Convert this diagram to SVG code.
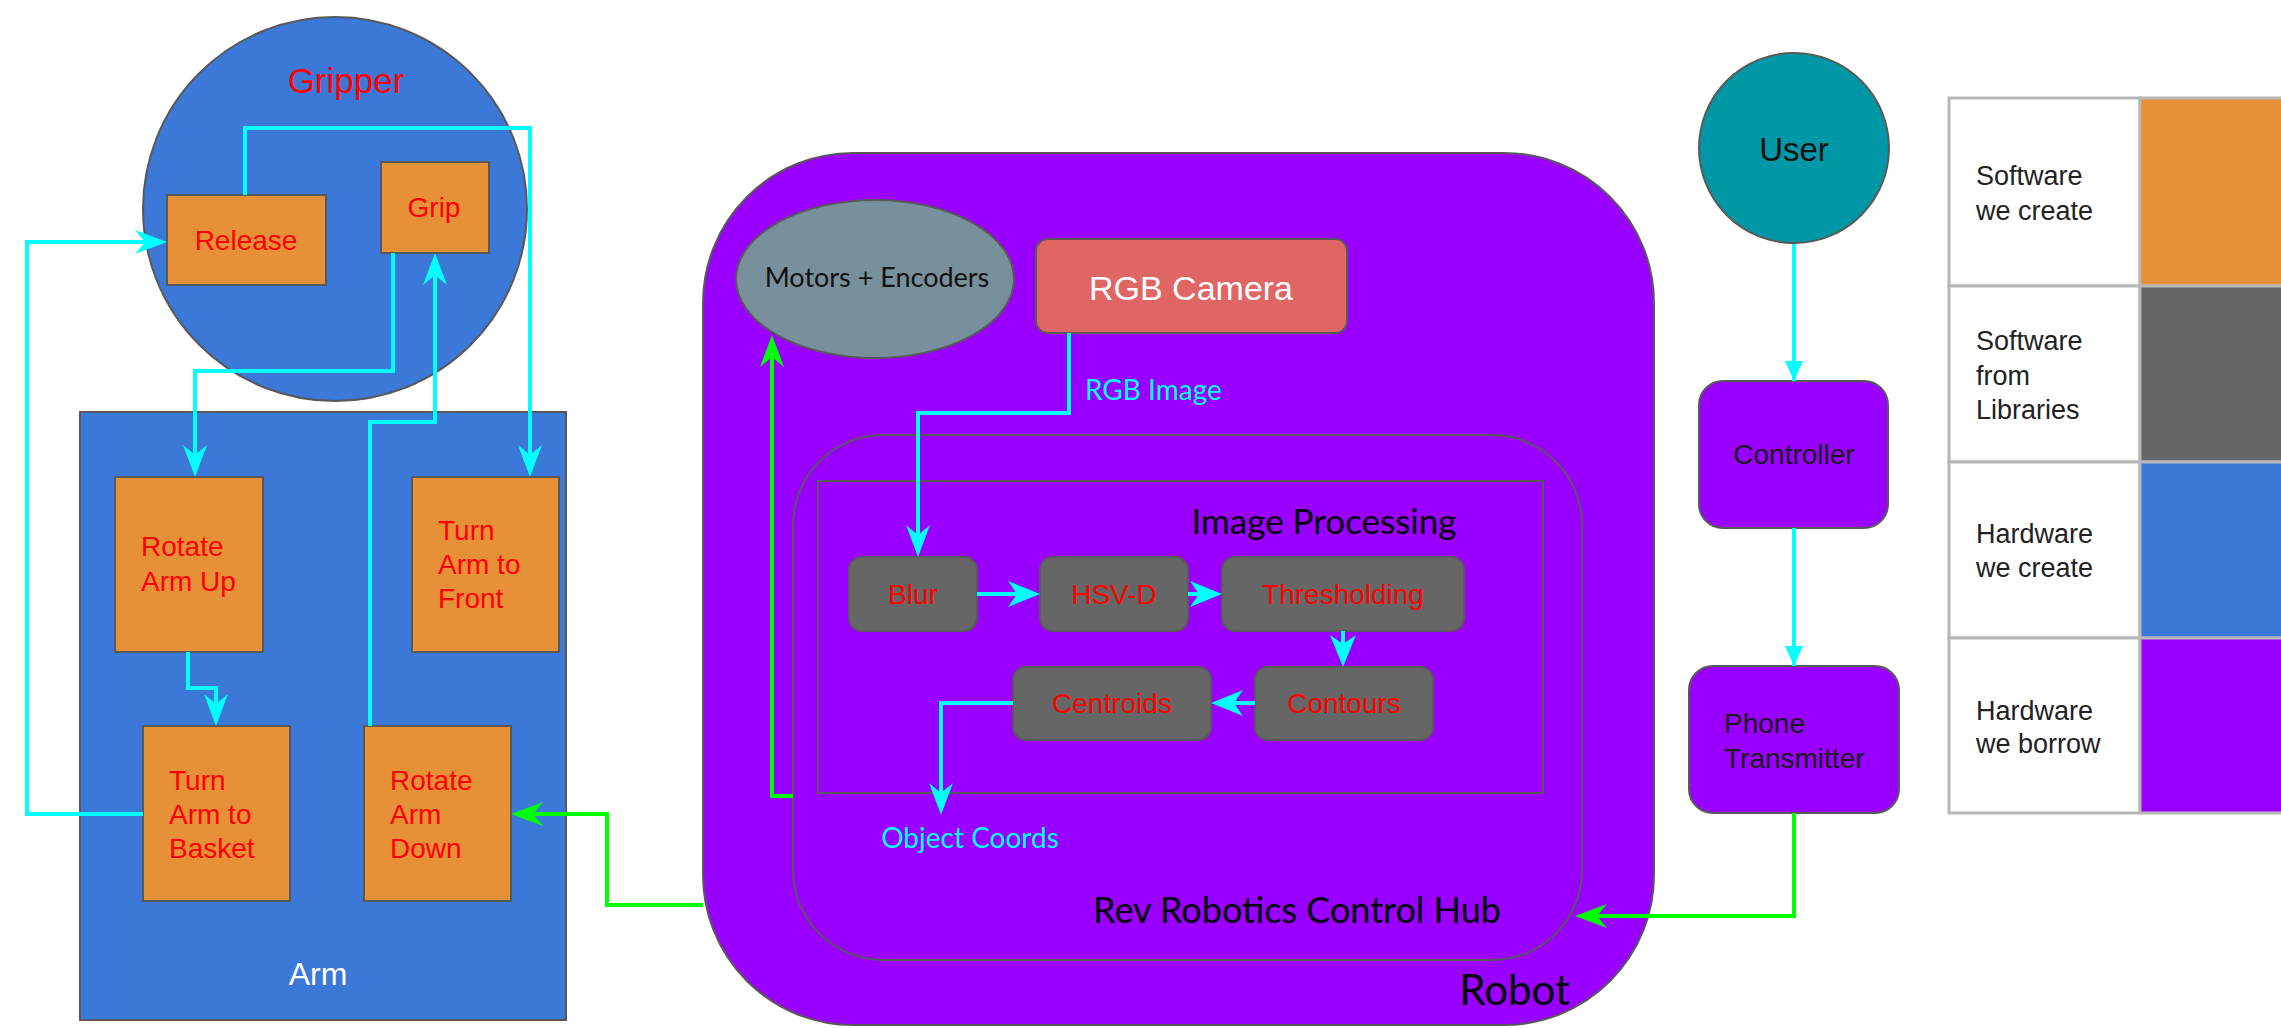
<svg xmlns="http://www.w3.org/2000/svg" width="2281" height="1028" viewBox="0 0 2281 1028">
<style>
.a{font-family:"Liberation Sans",Arial,sans-serif}
.l{font-family:Lato,"Open Sans",sans-serif}
.red{fill:#ff0000;font-size:28px}
.sw{fill:#e69138;stroke:#595959;stroke-width:2}
.lib{fill:#666666;stroke:#5a5a5a;stroke-width:2}
.cy{fill:none;stroke:#00ffff;stroke-width:4}
.gr{fill:none;stroke:#00ff00;stroke-width:4}
.leg{fill:#222;font-size:27px}
.cell{stroke:#b7b7b7;stroke-width:3}
</style>
<defs>
<marker id="ac" viewBox="0 0 32 24" markerWidth="32" markerHeight="24" refX="26" refY="12" orient="auto" markerUnits="userSpaceOnUse"><path d="M0,0 L32,12 L0,24 L10,12 Z" fill="#00ffff"/></marker>
<marker id="ag" viewBox="0 0 32 24" markerWidth="32" markerHeight="24" refX="26" refY="12" orient="auto" markerUnits="userSpaceOnUse"><path d="M0,0 L32,12 L0,24 L10,12 Z" fill="#00ff00"/></marker>
<marker id="ab" viewBox="0 0 32 26" markerWidth="32" markerHeight="26" refX="20" refY="13" orient="auto" markerUnits="userSpaceOnUse"><path d="M0,0 L32,13 L0,26 L9,13 Z" fill="#00ffff"/></marker>
<marker id="at" viewBox="0 0 20 18" markerWidth="20" markerHeight="18" refX="20" refY="9" orient="auto" markerUnits="userSpaceOnUse"><path d="M0,0 L20,9 L0,18 Z" fill="#00ffff"/></marker>
</defs>
<rect width="2281" height="1028" fill="#ffffff"/>

<g id="gripper">
<circle cx="335" cy="209" r="192" fill="#3c78d8" stroke="#595959" stroke-width="2"/>
<text class="a" x="346" y="93" font-size="35" fill="#ff0000" text-anchor="middle">Gripper</text>
</g>
<g id="release">
<rect class="sw" x="167" y="195" width="159" height="90"/>
<text class="a red" x="246" y="250" text-anchor="middle">Release</text>
</g>
<g id="grip">
<rect class="sw" x="381" y="162" width="108" height="91"/>
<text class="a red" x="434" y="217" text-anchor="middle">Grip</text>
</g>

<g id="arm">
<rect x="80" y="412" width="486" height="608" fill="#3c78d8" stroke="#595959" stroke-width="2"/>
<text class="a" x="318" y="985" font-size="32" fill="#ffffff" text-anchor="middle">Arm</text>
</g>
<g id="rotate-arm-up">
<rect class="sw" x="115" y="477" width="148" height="175"/>
<text class="a red" x="141" y="556">Rotate</text>
<text class="a red" x="141" y="591">Arm Up</text>
</g>
<g id="turn-arm-front">
<rect class="sw" x="412" y="477" width="147" height="175"/>
<text class="a red" x="438" y="540">Turn</text>
<text class="a red" x="438" y="574">Arm to</text>
<text class="a red" x="438" y="608">Front</text>
</g>
<g id="turn-arm-basket">
<rect class="sw" x="143" y="726" width="147" height="175"/>
<text class="a red" x="169" y="790">Turn</text>
<text class="a red" x="169" y="824">Arm to</text>
<text class="a red" x="169" y="858">Basket</text>
</g>
<g id="rotate-arm-down">
<rect class="sw" x="364" y="726" width="147" height="175"/>
<text class="a red" x="390" y="790">Rotate</text>
<text class="a red" x="390" y="824">Arm</text>
<text class="a red" x="390" y="858">Down</text>
</g>

<g id="robot">
<rect x="703" y="153" width="951" height="872" rx="150" ry="150" fill="#9900ff" stroke="#595959" stroke-width="2"/>
<text class="l" x="1570" y="1005" font-size="42" fill="#000" text-anchor="end">Robot</text>
</g>
<g id="control-hub">
<rect x="793" y="435" width="789" height="525" rx="90" ry="90" fill="none" stroke="#595959" stroke-width="2"/>
<text class="l" x="1297" y="923" font-size="36" fill="#000" text-anchor="middle">Rev Robotics Control Hub</text>
</g>
<g id="image-processing">
<rect x="818" y="481" width="725" height="312" fill="none" stroke="#595959" stroke-width="2"/>
<text class="l" x="1324" y="534" font-size="35" fill="#000" text-anchor="middle">Image Processing</text>
</g>
<g id="motors">
<ellipse cx="875" cy="279" rx="139" ry="79" fill="#78909c" stroke="#595959" stroke-width="2"/>
<text class="l" x="877" y="287" font-size="27" fill="#111" text-anchor="middle">Motors + Encoders</text>
</g>
<g id="camera">
<rect x="1036" y="239" width="311" height="94" rx="12" ry="12" fill="#e06666" stroke="#595959" stroke-width="2"/>
<text class="a" x="1191" y="300" font-size="34" fill="#ffffff" text-anchor="middle">RGB Camera</text>
</g>
<g id="blur">
<rect class="lib" x="849" y="557" width="128" height="74" rx="13"/>
<text class="a red" x="913" y="604" text-anchor="middle">Blur</text>
</g>
<g id="hsv">
<rect class="lib" x="1040" y="557" width="148" height="74" rx="13"/>
<text class="a red" x="1114" y="604" text-anchor="middle">HSV-D</text>
</g>
<g id="thresholding">
<rect class="lib" x="1222" y="557" width="242" height="74" rx="13"/>
<text class="a red" x="1343" y="604" text-anchor="middle">Thresholding</text>
</g>
<g id="contours">
<rect class="lib" x="1255" y="667" width="178" height="73" rx="13"/>
<text class="a red" x="1344" y="713" text-anchor="middle">Contours</text>
</g>
<g id="centroids">
<rect class="lib" x="1013" y="667" width="198" height="73" rx="13"/>
<text class="a red" x="1112" y="713" text-anchor="middle">Centroids</text>
</g>

<g id="user">
<ellipse cx="1794" cy="148" rx="95" ry="95" fill="#0097a7" stroke="#595959" stroke-width="2"/>
<text class="a" x="1794" y="161" font-size="33" fill="#111" text-anchor="middle">User</text>
</g>
<g id="controller">
<rect x="1699" y="381" width="189" height="147" rx="24" fill="#9900ff" stroke="#595959" stroke-width="2"/>
<text class="a" x="1794" y="464" font-size="28" fill="#1a1a1a" text-anchor="middle">Controller</text>
</g>
<g id="phone">
<rect x="1689" y="666" width="210" height="147" rx="24" fill="#9900ff" stroke="#595959" stroke-width="2"/>
<text class="a" x="1724" y="733" font-size="28" fill="#1a1a1a">Phone</text>
<text class="a" x="1724" y="768" font-size="28" fill="#1a1a1a">Transmitter</text>
</g>

<g id="legend">
<rect class="cell" x="1949" y="98" width="191" height="188" fill="#ffffff"/>
<rect class="cell" x="2140" y="98" width="160" height="188" fill="#e69138"/>
<rect class="cell" x="1949" y="286" width="191" height="176" fill="#ffffff"/>
<rect class="cell" x="2140" y="286" width="160" height="176" fill="#666666"/>
<rect class="cell" x="1949" y="462" width="191" height="176" fill="#ffffff"/>
<rect class="cell" x="2140" y="462" width="160" height="176" fill="#3c78d8"/>
<rect class="cell" x="1949" y="638" width="191" height="175" fill="#ffffff"/>
<rect class="cell" x="2140" y="638" width="160" height="175" fill="#9900ff"/>
<text class="a leg" x="1976" y="185">Software</text>
<text class="a leg" x="1976" y="220">we create</text>
<text class="a leg" x="1976" y="350">Software</text>
<text class="a leg" x="1976" y="385">from</text>
<text class="a leg" x="1976" y="419">Libraries</text>
<text class="a leg" x="1976" y="543">Hardware</text>
<text class="a leg" x="1976" y="577">we create</text>
<text class="a leg" x="1976" y="720">Hardware</text>
<text class="a leg" x="1976" y="753">we borrow</text>
</g>

<g id="connectors">
<path class="cy" d="M245,195 V128 H530 V471" marker-end="url(#ac)"/>
<path class="cy" d="M143,814 H27 V242 H161" marker-end="url(#ac)"/>
<path class="cy" d="M393,253 V371 H195 V471" marker-end="url(#ac)"/>
<path class="cy" d="M370,726 V422 H435 V259" marker-end="url(#ac)"/>
<path class="cy" d="M188,652 V688 H216 V720" marker-end="url(#ac)"/>
<path class="gr" d="M703,905 H607 V814 H517" marker-end="url(#ag)"/>
<path class="gr" d="M793,796 H772 V341" marker-end="url(#ag)"/>
<path class="gr" d="M1794,813 V916 H1581" marker-end="url(#ag)"/>
<path class="cy" d="M1069,333 V413 H918 V551" marker-end="url(#ac)"/>
<path class="cy" stroke-width="7" d="M977,594 H1028" marker-end="url(#ab)"/>
<path class="cy" stroke-width="6" d="M1188,594 H1210" marker-end="url(#ab)"/>
<path class="cy" stroke-width="5" d="M1343,631 V655" marker-end="url(#ab)"/>
<path class="cy" stroke-width="6" d="M1255,703 H1223" marker-end="url(#ab)"/>
<path class="cy" stroke-width="5" d="M1013,703 H941 V809" marker-end="url(#ac)"/>
<path class="cy" stroke-width="2" d="M1794,244 V381" marker-end="url(#at)"/>
<path class="cy" stroke-width="2" d="M1794,528 V666" marker-end="url(#at)"/>
<text class="l" x="1085" y="400" font-size="28" fill="#00ffff">RGB Image</text>
<text class="l" x="970" y="848" font-size="28" fill="#00ffff" text-anchor="middle">Object Coords</text>
</g>
</svg>
